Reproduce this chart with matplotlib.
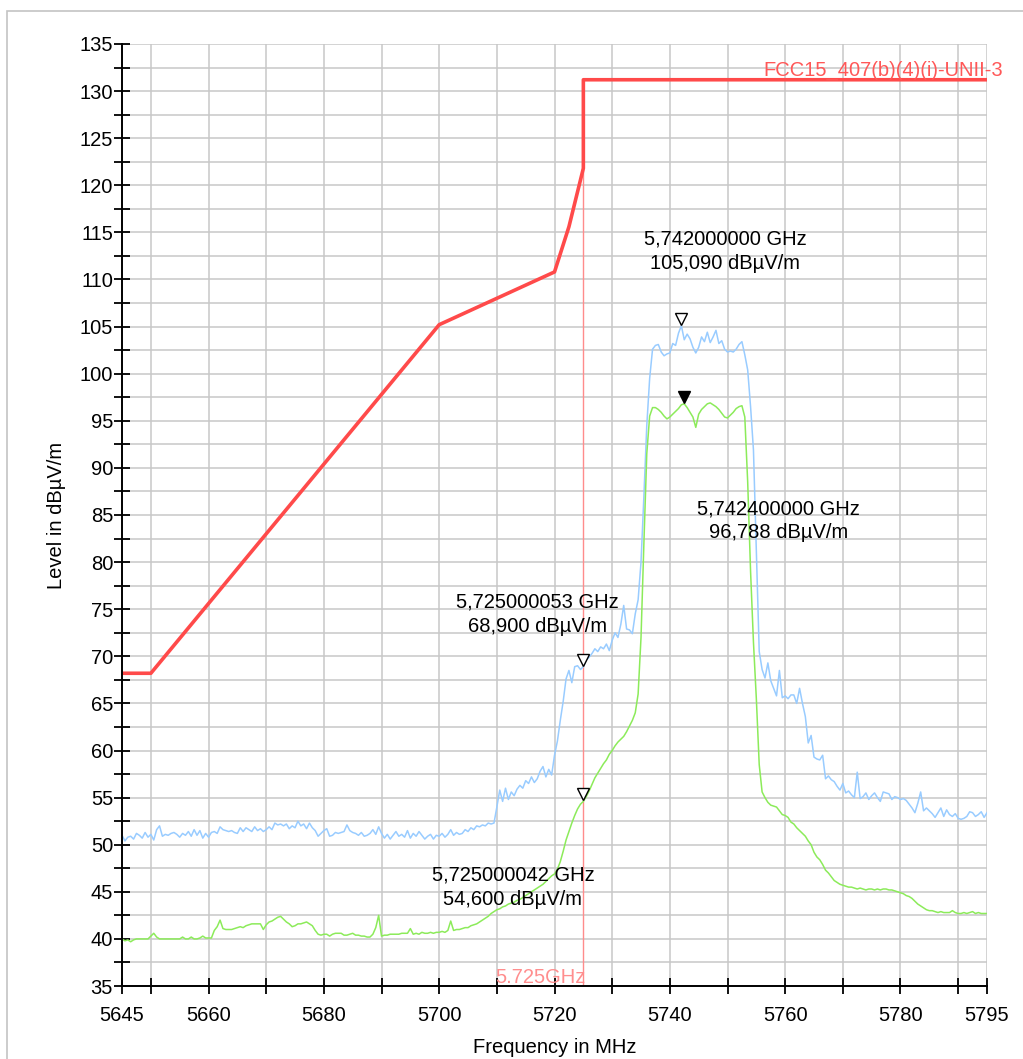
import numpy as np
import matplotlib
matplotlib.use('Agg')
import matplotlib.pyplot as plt
import matplotlib.transforms as mtransforms
from matplotlib.patches import Rectangle
from matplotlib.ticker import FixedLocator, MultipleLocator

plt.rcParams['font.family'] = ['Liberation Sans', 'DejaVu Sans']

LIMIT_COLOR = '#FF4A4A'
PEAK_COLOR = '#99CCFF'
AVG_COLOR = '#8CEB5A'
EDGE_COLOR = '#FF8C8C'
GRID_COLOR = '#C8C8C8'
FS = 14.5

# limit line FCC 15.407(b)(4)(i)
limit_freq = [5645, 5650, 5700, 5720, 5722.5, 5725, 5725, 5795]
limit_level = [68.2, 68.2, 105.2, 110.8, 115.6, 121.8, 131.2, 131.2]

# traces sampled every 0.5 MHz from 5645 to 5795
trace_freq = np.arange(5645.0, 5795.01, 0.5)

peak_level = [
    51.0, 50.4, 50.8, 50.9, 50.6, 51.2, 51.0, 50.7, 51.3, 50.8,
    51.1, 50.5, 51.6, 52.0, 50.9, 51.1, 51.0, 51.2, 51.3, 51.1,
    50.8, 51.2, 51.0, 51.4, 50.9, 51.6, 51.0, 51.5, 50.7, 51.2,
    50.8, 51.3, 51.4, 51.2, 51.9, 51.6, 51.5, 51.4, 51.5, 51.3,
    51.2, 51.8, 51.4, 51.8, 51.6, 51.4, 51.9, 51.5, 51.7, 51.4,
    51.6, 51.9, 51.6, 52.3, 52.1, 52.2, 52.0, 52.2, 51.7, 52.0,
    51.8, 52.5, 52.0, 52.2, 51.7, 52.3, 51.8, 51.5, 50.9, 51.2,
    51.5, 51.7, 50.9, 51.0, 51.3, 51.2, 51.3, 51.4, 52.1, 51.5,
    51.3, 51.2, 51.0, 51.3, 50.9, 51.0, 51.2, 51.6, 51.1, 51.9,
    51.2, 50.7, 51.1, 50.6, 51.0, 51.4, 50.9, 51.1, 50.8, 51.5,
    50.7, 51.2, 50.9, 51.4, 51.0, 50.6, 50.9, 51.1, 50.6, 51.0,
    50.9, 51.2, 50.8, 51.1, 51.6, 51.0, 51.3, 51.1, 51.2, 51.6,
    51.4, 51.8, 51.6, 52.0, 51.9, 52.1, 52.0, 52.3, 52.2, 52.3,
    54.0, 55.8, 54.6, 56.0, 54.8, 55.6, 55.2, 55.9, 56.3, 56.0,
    56.8, 56.5, 57.2, 56.6, 57.0, 57.8, 58.3, 57.2, 58.0, 57.4,
    59.5, 61.0, 63.2, 65.2, 67.6, 68.5, 67.2, 68.9, 69.0, 68.6,
    68.9, 69.6, 69.9, 70.3, 70.8, 70.5, 71.0, 70.8, 71.3, 70.6,
    71.7, 72.5, 72.0, 73.4, 75.4, 72.9, 72.8, 72.4, 74.5, 76.0,
    80.0, 87.0, 94.5, 99.5, 102.6, 103.0, 103.1, 102.3, 101.9, 102.1,
    102.2, 103.2, 103.0, 104.3, 105.09, 103.6, 104.2, 103.7, 102.8, 102.2,
    102.8, 103.9, 103.4, 104.4, 103.3, 103.9, 104.6, 103.2, 103.5, 102.6,
    102.3, 102.4, 102.3, 102.6, 103.1, 103.4, 102.0, 100.4, 96.5, 91.9,
    81.0, 70.5, 68.6, 67.7, 69.3, 67.4, 66.6, 65.8, 68.5, 65.6,
    65.8, 65.5, 65.9, 65.9, 65.0, 66.6, 65.0, 63.6, 60.8, 61.6,
    59.3, 59.1, 59.0, 59.5, 57.0, 57.3, 56.9, 56.7, 56.2, 55.8,
    56.5, 55.5, 55.7, 55.3, 55.0, 57.7, 54.9, 55.1, 55.5, 54.8,
    55.2, 55.5, 55.0, 54.6, 55.6, 55.5, 55.4, 54.8, 55.1, 55.0,
    54.8, 54.9, 54.7, 54.3, 53.9, 53.4, 54.4, 55.6, 53.6, 53.9,
    53.6, 53.3, 52.9, 53.4, 53.9, 53.0, 53.7, 53.2, 53.0, 53.3,
    52.8, 52.7, 52.8, 53.0, 53.5, 53.4, 53.0, 53.2, 53.5, 52.9,
    53.4,
]

avg_level = [
    40.0, 39.8, 39.9, 39.7, 39.9, 40.0, 40.0, 40.0, 40.0, 40.0,
    40.3, 40.6, 40.2, 40.0, 40.0, 40.0, 40.0, 40.0, 40.0, 40.0,
    40.0, 40.2, 40.0, 40.0, 40.2, 40.0, 40.0, 40.1, 40.3, 40.1,
    40.1, 40.1, 40.9, 41.3, 42.0, 41.1, 41.0, 41.0, 41.0, 41.1,
    41.2, 41.3, 41.2, 41.4, 41.5, 41.6, 41.6, 41.6, 41.6, 41.0,
    41.5, 41.8, 41.9, 42.1, 42.3, 42.4, 42.1, 41.8, 41.6, 41.3,
    41.4, 41.6, 41.6, 41.7, 41.8, 41.6, 41.4, 40.9, 40.5, 40.4,
    40.5, 40.5, 40.3, 40.5, 40.6, 40.6, 40.6, 40.4, 40.4, 40.5,
    40.6, 40.4, 40.4, 40.3, 40.3, 40.2, 40.2, 40.5, 41.2, 42.5,
    40.3, 40.4, 40.4, 40.5, 40.5, 40.5, 40.5, 40.6, 40.6, 40.6,
    41.1, 40.5, 40.6, 40.5, 40.7, 40.6, 40.6, 40.7, 40.6, 40.7,
    40.7, 40.8, 40.7, 40.9, 41.9, 40.9, 41.0, 41.0, 41.1, 41.2,
    41.2, 41.4, 41.5, 41.6, 41.8, 42.0, 42.2, 42.4, 42.7, 42.9,
    43.1, 43.2, 43.4, 43.5, 43.7, 43.8, 43.9, 44.1, 44.2, 44.4,
    44.6, 44.8, 45.0, 45.2, 45.4, 45.6, 45.8, 46.1, 46.4, 46.7,
    46.9, 47.4, 48.2, 49.3, 50.5, 51.4, 52.3, 53.1, 53.8, 54.3,
    54.6, 55.1, 55.7, 56.4, 57.1, 57.6, 58.1, 58.6, 59.0, 59.6,
    60.0, 60.5, 60.9, 61.2, 61.5, 62.0, 62.6, 63.2, 64.0, 66.0,
    72.0, 82.0, 91.5, 95.5, 96.4, 96.4, 96.2, 95.9, 95.5, 95.2,
    95.4, 95.7, 96.0, 96.3, 96.7, 96.8, 96.4, 95.9, 95.4, 94.3,
    95.7, 96.2, 96.5, 96.8, 96.9, 96.7, 96.5, 96.2, 95.8, 95.4,
    95.3, 95.6, 95.9, 96.3, 96.5, 96.6, 95.4, 88.5, 79.0, 71.5,
    65.5, 58.5, 55.6, 55.0, 54.5, 54.2, 54.1, 54.0, 53.6, 53.2,
    53.1, 52.9, 52.4, 52.2, 51.8, 51.5, 51.2, 50.9, 50.4, 50.0,
    49.2, 48.7, 48.4, 47.9, 47.3, 47.0, 46.6, 46.2, 46.0, 45.8,
    45.7, 45.6, 45.5, 45.5, 45.4, 45.3, 45.4, 45.3, 45.2, 45.3,
    45.3, 45.2, 45.3, 45.2, 45.3, 45.3, 45.2, 45.2, 45.1, 45.0,
    44.9, 44.8, 44.6, 44.5, 44.3, 44.0, 43.7, 43.5, 43.3, 43.1,
    43.0, 43.0, 42.9, 42.8, 42.9, 42.8, 42.8, 42.8, 43.0, 42.8,
    42.7, 42.7, 42.8, 42.7, 42.8, 42.9, 42.7, 42.8, 42.7, 42.7,
    42.7,
]

# markers: (freq MHz, level, filled)
marker_freq = [5742.0, 5742.4, 5725.0, 5725.0]
marker_level = [105.09, 96.788, 68.9, 54.6]
marker_filled = [False, True, False, False]
marker_text = [
    '5,742000000 GHz\n105,090 dBµV/m',
    '5,742400000 GHz\n96,788 dBµV/m',
    '5,725000053 GHz\n68,900 dBµV/m',
    '5,725000042 GHz\n54,600 dBµV/m',
]
text_freq = [5749.6, 5758.8, 5717.1, 5712.8]
text_level = [113.0, 84.4, 74.5, 45.5]

x_ticks = [5645, 5650, 5660, 5670, 5680, 5690, 5700, 5710, 5720,
           5730, 5740, 5750, 5760, 5770, 5780, 5790, 5795]
x_labeled = [5645, 5660, 5680, 5700, 5720, 5740, 5760, 5780, 5795]

fig = plt.figure(figsize=(10.23, 10.59), dpi=100)
fig.patches.append(Rectangle((0.0068, -0.02), 1.1, 1.01, transform=fig.transFigure,
                             fill=False, edgecolor='#C4C4C4', lw=1.2))
ax = fig.add_axes([0.1193, 0.0689, 0.8455, 0.8896])

# band edge marker line, stops at the limit line
ax.vlines(5725, 35, 131.2, color=EDGE_COLOR, lw=1.0, zorder=2)
ax.plot(trace_freq, peak_level, color=PEAK_COLOR, lw=1.1, zorder=3)
ax.plot(trace_freq, avg_level, color=AVG_COLOR, lw=1.1, zorder=3)
ax.plot(limit_freq, limit_level, color=LIMIT_COLOR, lw=2.6, zorder=4)

# triangles sit just above the marked point
up = mtransforms.offset_copy(ax.transData, fig=fig, x=0, y=5, units='points')
for f, lv, filled in zip(marker_freq, marker_level, marker_filled):
    ax.plot(f, lv, marker='v', ms=9, mec='black', mew=1.0,
            mfc='black' if filled else 'white', transform=up, zorder=6)
for f, lv, s in zip(text_freq, text_level, marker_text):
    ax.text(f, lv, s, ha='center', va='center', fontsize=FS, linespacing=1.35, zorder=7)

ax.text(5797.8, 132.2, 'FCC15_407(b)(4)(i)-UNII-3', color='#FF5757', fontsize=FS,
        ha='right', va='center', clip_on=False, zorder=7)
ax.text(5725.4, 35.9, '5.725GHz', color='#FF8E8E', fontsize=FS,
        ha='right', va='center', zorder=7)

ax.set_xlim(5645, 5795)
ax.set_ylim(35, 135)
ax.xaxis.set_major_locator(FixedLocator(x_ticks))
ax.set_xticklabels([str(t) if t in x_labeled else '' for t in x_ticks])
ax.yaxis.set_major_locator(MultipleLocator(5))
ax.yaxis.set_minor_locator(MultipleLocator(2.5))
ax.tick_params(axis='both', which='both', direction='inout', length=11, width=1.3,
               labelsize=FS, colors='black')
ax.tick_params(axis='x', pad=9)
ax.tick_params(axis='y', pad=1)

ax.grid(True, which='both', color=GRID_COLOR, lw=1.1)
ax.set_axisbelow(True)
for side in ['top', 'right']:
    ax.spines[side].set_visible(False)
for side in ['left', 'bottom']:
    ax.spines[side].set_linewidth(1.4)
    ax.spines[side].set_zorder(5)

ax.set_xlabel('Frequency in MHz', fontsize=FS, labelpad=9)
ax.set_ylabel('Level in dBµV/m', fontsize=FS, labelpad=10)

fig.savefig('out.png', dpi=100)
